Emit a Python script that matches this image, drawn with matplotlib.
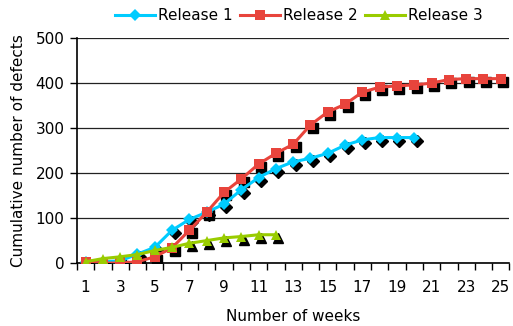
import matplotlib
matplotlib.use("Agg")
import matplotlib.pyplot as plt
import matplotlib.transforms as mtransforms
import numpy as np

# ---------------------------------------------------------------------------
# Data
# ---------------------------------------------------------------------------
weeks_r1 = list(range(1, 21))
release_1 = [2, 3, 5, 20, 35, 73, 97, 113, 131, 163, 190, 210, 225, 233,
             244, 262, 274, 279, 279, 279]

weeks_r2 = list(range(1, 26))
release_2 = [3, 0, 0, 3, 14, 34, 73, 113, 157, 187, 220, 244, 264, 307,
             336, 353, 380, 391, 394, 396, 400, 408, 410, 410, 410]

weeks_r3 = list(range(1, 13))
release_3 = [3, 10, 14, 19, 28, 35, 44, 50, 56, 59, 63, 63]

tick_weeks = list(range(1, 26, 2))
y_ticks = [0, 100, 200, 300, 400, 500]

# ---------------------------------------------------------------------------
# Figure
# ---------------------------------------------------------------------------
plt.rcParams["font.family"] = "DejaVu Sans"
fig = plt.figure(figsize=(5.13, 3.26), dpi=100)
ax = fig.add_axes([0.150, 0.193, 0.843, 0.690])

series = [
    (weeks_r1, release_1, "Release 1", "#00ccff", "D", 6.5),
    (weeks_r2, release_2, "Release 2", "#e8443c", "s", 6.5),
    (weeks_r3, release_3, "Release 3", "#99cc00", "^", 7.5),
]

# drop shadow under the markers, Excel style
shadow = mtransforms.offset_copy(ax.transData, fig=fig, x=2.5, y=-3, units="dots")
for x, y, label, color, marker, ms in series:
    ax.plot(x, y, linestyle="none", marker=marker, ms=ms, color="black",
            transform=shadow, zorder=2)

for x, y, label, color, marker, ms in series:
    ax.plot(x, y, color=color, lw=2.2, marker=marker, ms=ms,
            markeredgewidth=0, label=label, zorder=3)

ax.set_xlim(0.5, 25.5)
ax.set_ylim(0, 500)
ax.set_yticks(y_ticks)
ax.set_xticks(tick_weeks)
ax.set_xticks(np.arange(0.5, 26, 1), minor=True)
ax.tick_params(axis="x", which="major", length=0, pad=12, labelsize=11)
ax.tick_params(axis="x", which="minor", length=5, width=1, direction="out")
ax.tick_params(axis="y", length=5, width=1, direction="out", pad=4, labelsize=11)

ax.grid(axis="y", color="#222222", lw=0.9)
ax.set_axisbelow(True)
for s in ["top", "right"]:
    ax.spines[s].set_visible(False)
for s in ["left", "bottom"]:
    ax.spines[s].set_color("black")
    ax.spines[s].set_linewidth(1.2)

ax.set_xlabel("Number of weeks", fontsize=11, labelpad=10)
ax.set_ylabel("Cumulative number of defects", fontsize=11, labelpad=7)

ax.legend(loc="upper center", bbox_to_anchor=(0.513, 1.195), ncol=3, frameon=False,
          fontsize=11, handlelength=2.6, columnspacing=0.5, handletextpad=0.2)

fig.savefig("out.png", dpi=100)
